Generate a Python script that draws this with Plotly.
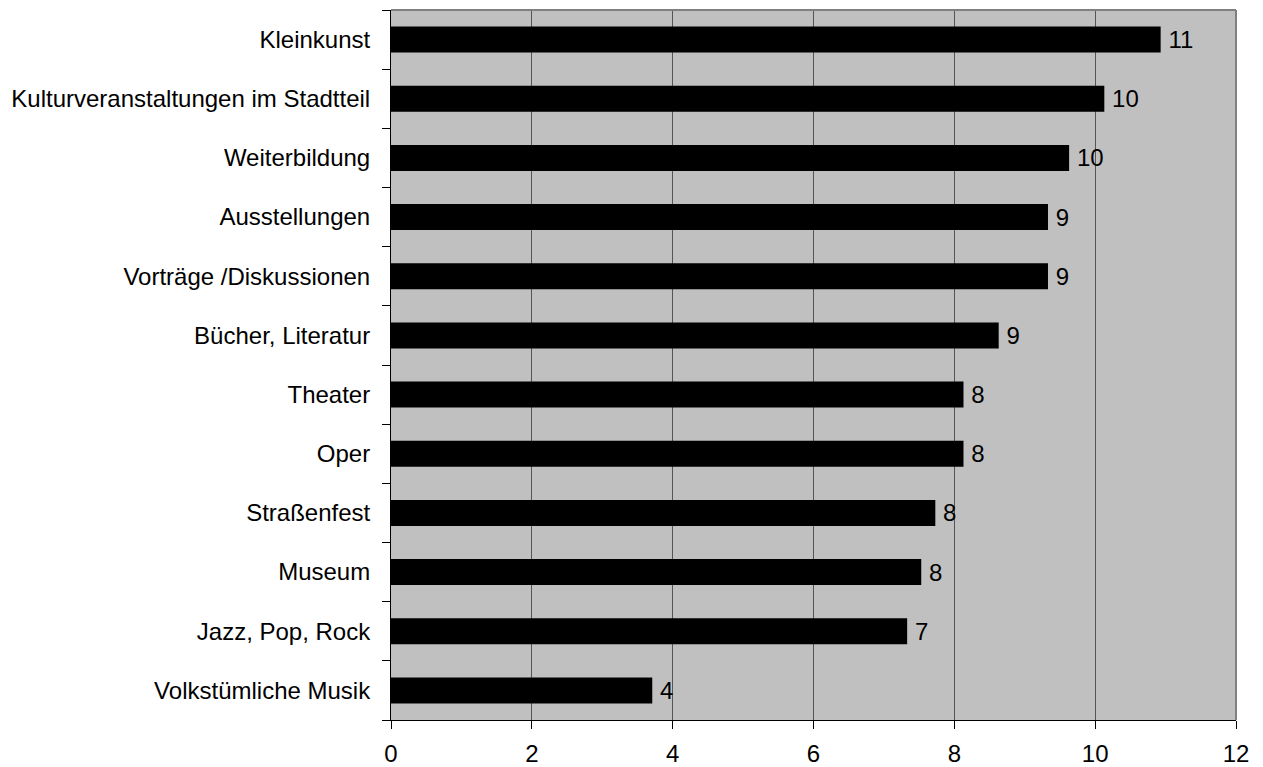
import plotly.graph_objects as go

categories = [
    "Kleinkunst",
    "Kulturveranstaltungen im Stadtteil",
    "Weiterbildung",
    "Ausstellungen",
    "Vorträge /Diskussionen",
    "Bücher, Literatur",
    "Theater",
    "Oper",
    "Straßenfest",
    "Museum",
    "Jazz, Pop, Rock",
    "Volkstümliche Musik",
]
values = [10.93, 10.13, 9.63, 9.33, 9.33, 8.63, 8.13, 8.13, 7.73, 7.53, 7.33, 3.71]
value_labels = ["11", "10", "10", "9", "9", "9", "8", "8", "8", "8", "7", "4"]
x_ticks = [0, 2, 4, 6, 8, 10, 12]

font_family = "Liberation Sans, Arial, sans-serif"
positions = list(range(len(categories) - 1, -1, -1))

fig = go.Figure()
fig.add_trace(
    go.Bar(
        x=values,
        y=positions,
        orientation="h",
        marker=dict(color="#000000", line=dict(width=0)),
        width=0.44,
        text=["\u2009" + label for label in value_labels],
        textposition="outside",
        textfont=dict(family=font_family, size=24, color="#000000"),
        constraintext="none",
        cliponaxis=False,
        hoverinfo="skip",
    )
)

# the page body adds an 8px offset, so the figure is shrunk to fit the window
fig.update_layout(
    width=1255,
    height=759,
    margin=dict(l=383, r=27, t=2, b=47),
    paper_bgcolor="#ffffff",
    plot_bgcolor="#C0C0C0",
    showlegend=False,
    font=dict(family=font_family, size=24, color="#000000"),
    shapes=[
        dict(type="line", xref="paper", yref="paper", x0=0, x1=1, y0=1, y1=1,
             line=dict(color="#808080", width=2)),
        dict(type="line", xref="paper", yref="paper", x0=1, x1=1, y0=0, y1=1,
             line=dict(color="#808080", width=2)),
    ],
)
fig.update_xaxes(
    range=[0, 12],
    tickvals=x_ticks,
    ticks="outside",
    ticklen=8,
    tickwidth=1,
    tickcolor="#000000",
    showline=True,
    linecolor="#000000",
    linewidth=1,
    showgrid=True,
    gridcolor="#555555",
    gridwidth=1,
    zeroline=False,
    automargin=False,
    ticklabelstandoff=4,
    tickfont=dict(family=font_family, size=24, color="#000000"),
)
fig.update_yaxes(
    range=[-0.5, len(categories) - 0.5],
    tickmode="array",
    tickvals=positions,
    ticktext=categories,
    ticks="",
    ticklabelstandoff=15,
    showline=True,
    linecolor="#000000",
    linewidth=1,
    showgrid=False,
    zeroline=False,
    automargin=False,
    minor=dict(
        tickmode="array",
        tickvals=[p - 0.5 for p in range(len(categories) + 1)],
        ticks="outside",
        ticklen=8,
        tickwidth=1,
        tickcolor="#000000",
        showgrid=False,
    ),
    tickfont=dict(family=font_family, size=24, color="#000000"),
)

fig.write_html("out.html")
